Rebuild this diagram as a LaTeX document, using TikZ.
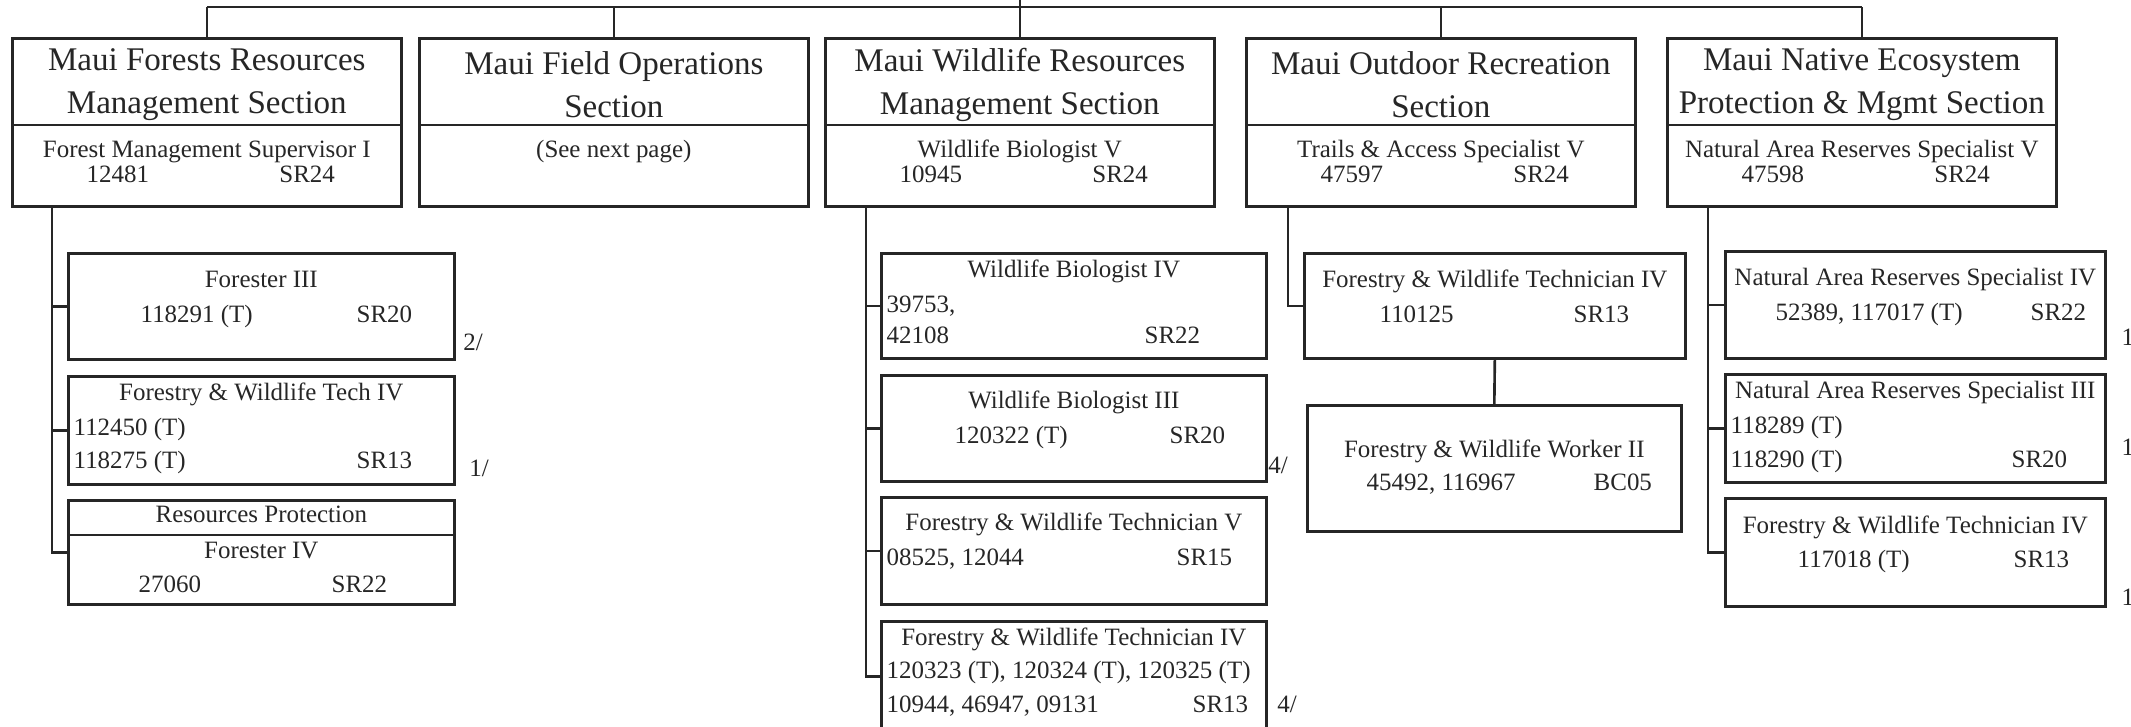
\documentclass[tikz,border=0pt]{standalone}
\usepackage{fontspec}
\setmainfont{Liberation Serif}
\usetikzlibrary{calc,positioning}
\definecolor{ink}{RGB}{38,38,38}
\tikzset{
  wire/.style={ink, line width=0.75pt},
  secbox/.style={draw=ink, line width=0.75pt, anchor=north west,
                 minimum width=38.9mm, minimum height=16.8mm, inner sep=0pt},
  posbox/.style={draw=ink, line width=0.75pt, anchor=north west,
                 minimum height=10.6mm, inner sep=0pt},
  bigtxt/.style={font=\fontsize{9.4}{12.3}\selectfont, text=ink,
                 inner sep=0pt, align=center},
  txt/.style={font=\fontsize{7.1}{9}\selectfont, text=ink, inner sep=0pt,
              text height=1.6mm, text depth=0.5mm},
  lefttxt/.style={txt, anchor=west},
  footmark/.style={txt, anchor=west},
}

\begin{document}
\begin{tikzpicture}[x=0.1mm,y=-0.1mm]
  \useasboundingbox (0,0) rectangle (2131,726);

  % Section boxes across the top.
  \foreach \name/\xl/\lineA/\lineB in {
    B1/11/{Maui Forests Resources}/{Management Section},
    B2/418/{Maui Field Operations}/{Section},
    B3/824/{Maui Wildlife Resources}/{Management Section},
    B4/1245/{Maui Outdoor Recreation}/{Section},
    B5/1666/{Maui Native Ecosystem}/{Protection \& Mgmt Section}
  }{
    \node[secbox] (\name) at (\xl,37) {};
    \node[bigtxt] (\name-title) at ($(\name.north)+(0,48)$) {\lineA\\\lineB};
    \draw[wire] ($(\name.north west)+(0,88)$) -- ($(\name.north east)+(0,88)$);
  }

  \foreach \name/\post/\num in {
    B1/{Forest Management Supervisor I}/12481,
    B3/{Wildlife Biologist V}/10945,
    B4/{Trails \& Access Specialist V}/47597,
    B5/{Natural Area Reserves Specialist V}/47598
  }{
    \node[txt] (\name-post) at ($(\name.north)+(0,115)$) {\post};
    \node[lefttxt] (\name-num) at ($(\name.north west)+(75,140)$) {\num};
    \node[txt, anchor=east] (\name-grade) at ($(\name.north east)+(-67,140)$) {SR24};
  }
  \node[txt] (B2-post) at ($(B2.north)+(0,115)$) {(See next page)};

  % Bus line over the sections.
  \coordinate (bus) at (0,7);
  \coordinate (root) at (B3.north |- 0,0);
  \draw[wire] (root) -- (B3.north);
  \draw[wire] (B1.north |- bus) -- (B5.north |- bus);
  \foreach \b in {B1,B2,B4,B5}
    \draw[wire] (\b.north |- bus) -- (\b.north);

  % Forests column.
  \node[posbox, minimum width=38.6mm] (C11) at (67,252) {};
  \node[txt] (C11-t) at ($(C11.north)+(0,30)$) {Forester III};
  \node[lefttxt] (C11-n) at ($(C11.north west)+(73,65)$) {118291 (T)};
  \node[lefttxt] (C11-g) at ($(C11.north west)+(289,65)$) {SR20};
  \node[footmark] (C11-m) at ($(C11.south east)+(7,-16)$) {2/};

  \node[posbox, minimum width=38.6mm, minimum height=10.8mm] (C12) at (67,375) {};
  \node[txt] (C12-t) at ($(C12.north)+(0,20)$) {Forestry \& Wildlife Tech IV};
  \node[lefttxt] (C12-n1) at ($(C12.north west)+(6,55)$) {112450 (T)};
  \node[lefttxt] (C12-n2) at ($(C12.north west)+(6,88)$) {118275 (T)};
  \node[lefttxt] (C12-g) at ($(C12.north west)+(289,88)$) {SR13};
  \node[footmark] (C12-m) at ($(C12.south east)+(13,-15)$) {1/};

  \node[posbox, minimum width=38.6mm, minimum height=10.4mm] (C13) at (67,499) {};
  \draw[wire] ($(C13.north west)+(0,36)$) -- ($(C13.north east)+(0,36)$);
  \node[txt] (C13-h) at ($(C13.north)+(0,18)$) {Resources Protection};
  \node[txt] (C13-t) at ($(C13.north)+(0,54)$) {Forester IV};
  \node[lefttxt] (C13-n) at ($(C13.north west)+(71,88)$) {27060};
  \node[lefttxt] (C13-g) at ($(C13.north west)+(264,88)$) {SR22};

  \coordinate (s1) at ($(B1.south west)+(41,0)$);
  \foreach \c in {C11,C12,C13}
    \draw[wire] (s1) |- (\c.west);

  % Wildlife column.
  \node[posbox, minimum width=38.5mm, minimum height=10.5mm] (C31) at (880,252) {};
  \node[txt] (C31-t) at ($(C31.north)+(0,20)$) {Wildlife Biologist IV};
  \node[lefttxt] (C31-n1) at ($(C31.north west)+(6,55)$) {39753,};
  \node[lefttxt] (C31-n2) at ($(C31.north west)+(6,86)$) {42108};
  \node[lefttxt] (C31-g) at ($(C31.north west)+(264,86)$) {SR22};

  \node[posbox, minimum width=38.5mm] (C32) at (880,374) {};
  \node[txt] (C32-t) at ($(C32.north)+(0,29)$) {Wildlife Biologist III};
  \node[lefttxt] (C32-n) at ($(C32.north west)+(74,64)$) {120322 (T)};
  \node[lefttxt] (C32-g) at ($(C32.north west)+(289,64)$) {SR20};
  \node[footmark] (C32-m) at ($(C32.south east)+(0,-15)$) {4/};

  \node[posbox, minimum width=38.5mm, minimum height=10.7mm] (C33) at (880,496) {};
  \node[txt] (C33-t) at ($(C33.north)+(0,29)$) {Forestry \& Wildlife Technician V};
  \node[lefttxt] (C33-n) at ($(C33.north west)+(6,64)$) {08525, 12044};
  \node[lefttxt] (C33-g) at ($(C33.north west)+(296,64)$) {SR15};

  \node[posbox, minimum width=38.5mm, minimum height=11mm] (C34) at (880,620) {};
  \node[txt] (C34-t) at ($(C34.north)+(0,20)$) {Forestry \& Wildlife Technician IV};
  \node[lefttxt] (C34-n1) at ($(C34.north west)+(6,53)$) {120323 (T), 120324 (T), 120325 (T)};
  \node[lefttxt] (C34-n2) at ($(C34.north west)+(6,87)$) {10944, 46947, 09131};
  \node[lefttxt] (C34-g) at ($(C34.north west)+(312,87)$) {SR13};
  \node[footmark] (C34-m) at ($(C34.north east)+(9,87)$) {4/};

  \coordinate (s3) at ($(B3.south west)+(42,0)$);
  \foreach \c in {C31,C32,C33,C34}
    \draw[wire] (s3) |- (\c.west);

  % Outdoor recreation column.
  \node[posbox, minimum width=38.1mm, minimum height=10.5mm] (C41) at (1303,252) {};
  \node[txt] (C41-t) at ($(C41.north)+(0,30)$) {Forestry \& Wildlife Technician IV};
  \node[lefttxt] (C41-n) at ($(C41.north west)+(76,65)$) {110125};
  \node[lefttxt] (C41-g) at ($(C41.north west)+(270,65)$) {SR13};

  \node[posbox, minimum width=37.4mm, minimum height=12.6mm] (C42) at (1306,404) {};
  \node[txt] (C42-t) at ($(C42.north)+(0,48)$) {Forestry \& Wildlife Worker II};
  \node[lefttxt] (C42-n) at ($(C42.north west)+(60,81)$) {45492, 116967};
  \node[lefttxt] (C42-g) at ($(C42.north west)+(287,81)$) {BC05};

  \coordinate (s4) at ($(B4.south west)+(43,0)$);
  \draw[wire] (s4) |- (C41.west);
  \draw[wire] (C41.south) -- (C42.north);

  % Native ecosystem column.
  \node[posbox, minimum width=38.0mm, minimum height=10.7mm] (C51) at (1724,250) {};
  \node[txt] (C51-t) at ($(C51.north)+(0,30)$) {Natural Area Reserves Specialist IV};
  \node[lefttxt] (C51-n) at ($(C51.north west)+(51,65)$) {52389, 117017 (T)};
  \node[lefttxt] (C51-g) at ($(C51.north west)+(306,65)$) {SR22};

  \node[posbox, minimum width=38.0mm, minimum height=10.8mm] (C52) at (1724,373) {};
  \node[txt] (C52-t) at ($(C52.north)+(0,20)$) {Natural Area Reserves Specialist III};
  \node[lefttxt] (C52-n1) at ($(C52.north west)+(6,55)$) {118289 (T)};
  \node[lefttxt] (C52-n2) at ($(C52.north west)+(6,89)$) {118290 (T)};
  \node[lefttxt] (C52-g) at ($(C52.north west)+(287,89)$) {SR20};

  \node[posbox, minimum width=38.0mm, minimum height=10.8mm] (C53) at (1724,497) {};
  \node[txt] (C53-t) at ($(C53.north)+(0,31)$) {Forestry \& Wildlife Technician IV};
  \node[lefttxt] (C53-n) at ($(C53.north west)+(73,65)$) {117018 (T)};
  \node[lefttxt] (C53-g) at ($(C53.north west)+(289,65)$) {SR13};

  \coordinate (s5) at ($(B5.south west)+(42,0)$);
  \foreach \c in {C51,C52,C53}
    \draw[wire] (s5) |- (\c.west);

  % Marks cut off at the page edge.
  \foreach \yy/\nm in {340/M51,450/M52,600/M53}
    \node[footmark] (\nm) at (2121,\yy) {1/};
\end{tikzpicture}
\end{document}
